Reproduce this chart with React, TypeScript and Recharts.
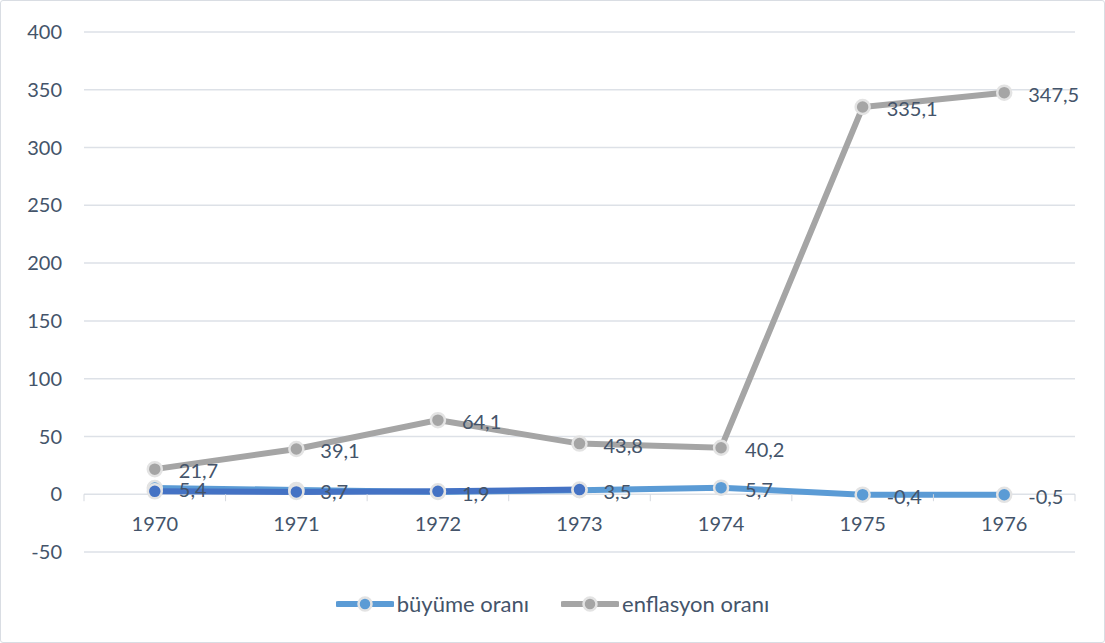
import { LineChart, Line, XAxis, YAxis, CartesianGrid, Legend, LabelList } from "recharts";

const years = ["1970", "1971", "1972", "1973", "1974", "1975", "1976"];
const growthRate = [5.4, 3.7, 1.9, 3.5, 5.7, -0.4, -0.5];
const inflationRate = [21.7, 39.1, 64.1, 43.8, 40.2, 335.1, 347.5];
// darker blue overlay visible on the first four points of the growth line
const growthOverlay = [2.5, 2, 2.5, 4, null, null, null];
const yTicks = [-50, 0, 50, 100, 150, 200, 250, 300, 350, 400];

const data = years.map((year, i) => ({
  year,
  growth: growthRate[i],
  inflation: inflationRate[i],
  overlay: growthOverlay[i],
}));

const WIDTH = 1105;
const HEIGHT = 643;
const TOP = 32;
const BOTTOM = 91;
const LEFT = 84;
const RIGHT = 30;
const PLOT_H = HEIGHT - TOP - BOTTOM;
const BAND = (WIDTH - LEFT - RIGHT) / years.length;
const ZERO_Y = TOP + (PLOT_H * 400) / 450;

const TEXT = "#44546A";
const BLUE = "#5B9BD5";
const DARK_BLUE = "#4472C4";
const GRAY = "#A5A5A5";

const fmt = (v: any) => String(v).replace(".", ",");

const renderLabel = (props: any) => {
  const { x, y, value } = props;
  if (value == null) return null;
  return (
    <text x={x + 24} y={y + 9} fill={TEXT} fontSize={20} textAnchor="start">
      {fmt(value)}
    </text>
  );
};

const XTick = (props: any) => {
  const { x, payload, index } = props;
  const last = index === years.length - 1;
  return (
    <g>
      <line x1={x - BAND / 2} x2={x - BAND / 2} y1={ZERO_Y} y2={ZERO_Y + 7} stroke="#d5d9df" />
      {last && <line x1={x + BAND / 2} x2={x + BAND / 2} y1={ZERO_Y} y2={ZERO_Y + 7} stroke="#d5d9df" />}
      <text x={x} y={ZERO_Y + 37} textAnchor="middle" fill={TEXT} fontSize={20}>
        {payload.value}
      </text>
    </g>
  );
};

const LegendIcon = ({ color }: { color: string }) => (
  <svg width={58} height={18}>
    <line x1={2} x2={56} y1={9} y2={9} stroke={color} strokeWidth={6} strokeLinecap="round" />
    <circle cx={29} cy={9} r={6.5} fill={color} stroke="#e3e3e3" strokeWidth={2.5} />
  </svg>
);

const renderLegend = () => (
  <div style={{ display: "flex", justifyContent: "center", gap: 32, fontSize: 22, color: TEXT }}>
    <div style={{ display: "flex", alignItems: "center", gap: 3 }}>
      <LegendIcon color={BLUE} />
      <span>büyüme oranı</span>
    </div>
    <div style={{ display: "flex", alignItems: "center", gap: 3 }}>
      <LegendIcon color={GRAY} />
      <span>enflasyon oranı</span>
    </div>
  </div>
);

export default function App() {
  return (
    <div
      style={{
        position: "absolute",
        top: 0,
        left: 0,
        width: WIDTH,
        height: HEIGHT,
        background: "#fff",
        fontFamily: "Lato, 'Open Sans', sans-serif",
      }}
    >
      <LineChart width={WIDTH} height={HEIGHT} data={data} margin={{ top: TOP, right: RIGHT, left: 0, bottom: 0 }}>
        <CartesianGrid vertical={false} stroke="#dde1e7" strokeWidth={1.5} />
        <XAxis
          dataKey="year"
          height={BOTTOM}
          padding={{ left: BAND / 2, right: BAND / 2 }}
          axisLine={false}
          tickLine={false}
          tick={<XTick />}
          interval={0}
        />
        <YAxis
          width={LEFT}
          domain={[-50, 400]}
          ticks={yTicks}
          axisLine={false}
          tickLine={false}
          tickMargin={16}
          tick={{ fill: TEXT, fontSize: 20 }}
        />
        <Line
          dataKey="growth"
          name="büyüme oranı"
          type="linear"
          stroke={BLUE}
          strokeWidth={6}
          dot={{ r: 7, fill: BLUE, stroke: "#e3e3e3", strokeWidth: 2.5 }}
          activeDot={false}
          isAnimationActive={false}
        >
          <LabelList dataKey="growth" content={renderLabel} />
        </Line>
        <Line
          dataKey="overlay"
          legendType="none"
          type="linear"
          stroke={DARK_BLUE}
          strokeWidth={6}
          dot={{ r: 7, fill: DARK_BLUE, stroke: "#e3e3e3", strokeWidth: 2.5 }}
          activeDot={false}
          isAnimationActive={false}
        />
        <Line
          dataKey="inflation"
          name="enflasyon oranı"
          type="linear"
          stroke={GRAY}
          strokeWidth={6}
          dot={{ r: 7, fill: GRAY, stroke: "#e3e3e3", strokeWidth: 2.5 }}
          activeDot={false}
          isAnimationActive={false}
        >
          <LabelList dataKey="inflation" content={renderLabel} />
        </Line>
        <Legend verticalAlign="middle" content={renderLegend} wrapperStyle={{ top: 590, left: 0, width: WIDTH }} />
      </LineChart>
      <div
        style={{
          position: "absolute",
          inset: 0,
          border: "1.5px solid #d9dde3",
          borderRadius: 3,
          pointerEvents: "none",
        }}
      />
    </div>
  );
}
